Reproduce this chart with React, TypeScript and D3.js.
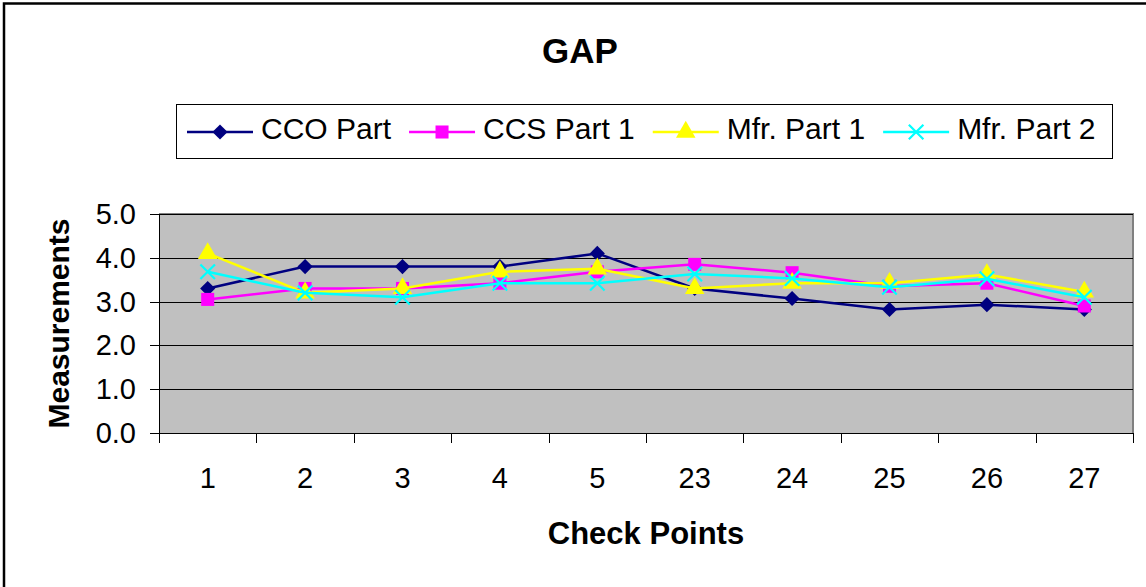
import React, { useEffect, useRef } from "react";
import * as d3 from "d3";

// check point categories along the x axis
const checkPoints = ["1", "2", "3", "4", "5", "23", "24", "25", "26", "27"];

const ccoPart = [3.3, 3.8, 3.8, 3.8, 4.1, 3.3, 3.07, 2.82, 2.93, 2.82];
const ccsPart1 = [3.05, 3.3, 3.3, 3.42, 3.68, 3.85, 3.66, 3.35, 3.42, 2.9];
const mfrPart1 = [4.1, 3.2, 3.3, 3.68, 3.75, 3.3, 3.42, 3.42, 3.62, 3.22];
const mfrPart2 = [3.68, 3.2, 3.1, 3.42, 3.42, 3.63, 3.53, 3.33, 3.52, 3.1];

const yTicks = [0, 1, 2, 3, 4, 5];

const seriesNames = ["CCO Part", "CCS Part 1", "Mfr. Part 1", "Mfr. Part 2"];

const FONT = "'Liberation Sans', Arial, Helvetica, sans-serif";

type Series = {
  name: string;
  values: number[];
  color: string;
  marker: "diamond" | "square" | "triangle" | "x";
};

const App = () => {
  const svgRef = useRef<SVGSVGElement | null>(null);

  useEffect(() => {
    const width = 1146;
    const height = 587;

    const svg = d3.select(svgRef.current);
    svg.selectAll("*").remove(); // clear prev
    svg.attr("width", width).attr("height", height);

    const series: Series[] = [
      { name: seriesNames[0], values: ccoPart, color: "#000080", marker: "diamond" },
      { name: seriesNames[1], values: ccsPart1, color: "#FF00FF", marker: "square" },
      { name: seriesNames[2], values: mfrPart1, color: "#FFFF00", marker: "triangle" },
      { name: seriesNames[3], values: mfrPart2, color: "#00FFFF", marker: "x" },
    ];

    const plot = { left: 159, right: 1133, top: 214, bottom: 433 };

    const x = d3
      .scaleBand<string>()
      .domain(checkPoints)
      .range([plot.left, plot.right])
      .padding(0);
    const y = d3.scaleLinear().domain([0, 5]).range([plot.bottom, plot.top]);

    const cx = (c: string) => (x(c) ?? 0) + x.bandwidth() / 2;

    // outer chart border (only left & top show in the crop)
    svg
      .append("path")
      .attr("d", `M4,${height}V3.5H${width}`)
      .attr("fill", "none")
      .attr("stroke", "#000")
      .attr("stroke-width", 2.5);

    // title
    svg
      .append("text")
      .attr("x", 580)
      .attr("y", 63)
      .attr("text-anchor", "middle")
      .style("font-family", FONT)
      .style("font-weight", "bold")
      .style("font-size", "35px")
      .text("GAP");

    // plot area
    svg
      .append("rect")
      .attr("x", plot.left)
      .attr("y", plot.top)
      .attr("width", plot.right - plot.left)
      .attr("height", plot.bottom - plot.top)
      .attr("fill", "#C0C0C0");

    svg
      .append("path")
      .attr("d", `M${plot.left},${plot.top}H${plot.right}V${plot.bottom}`)
      .attr("fill", "none")
      .attr("stroke", "#808080")
      .attr("stroke-width", 2);

    // gridlines
    svg
      .append("g")
      .selectAll("line")
      .data(yTicks.slice(1))
      .join("line")
      .attr("x1", plot.left)
      .attr("x2", plot.right)
      .attr("y1", (d) => Math.round(y(d)) + 0.5)
      .attr("y2", (d) => Math.round(y(d)) + 0.5)
      .attr("stroke", "#000")
      .attr("stroke-width", 1);

    // y axis
    const yAxis = svg.append("g");
    yAxis
      .append("line")
      .attr("x1", plot.left + 0.5)
      .attr("x2", plot.left + 0.5)
      .attr("y1", plot.top)
      .attr("y2", plot.bottom)
      .attr("stroke", "#000");
    yAxis
      .selectAll("line.tick")
      .data(yTicks)
      .join("line")
      .attr("class", "tick")
      .attr("x1", plot.left - 9)
      .attr("x2", plot.left)
      .attr("y1", (d) => Math.round(y(d)) + 0.5)
      .attr("y2", (d) => Math.round(y(d)) + 0.5)
      .attr("stroke", "#000");
    yAxis
      .selectAll("text")
      .data(yTicks)
      .join("text")
      .attr("x", 136)
      .attr("y", (d) => y(d) + 10)
      .attr("text-anchor", "end")
      .style("font-family", FONT)
      .style("font-size", "29px")
      .text((d) => d3.format(".1f")(d));

    // x axis
    const xAxis = svg.append("g");
    xAxis
      .append("line")
      .attr("x1", plot.left)
      .attr("x2", plot.right)
      .attr("y1", plot.bottom + 0.5)
      .attr("y2", plot.bottom + 0.5)
      .attr("stroke", "#000");
    const boundaries = [...checkPoints.map((c) => x(c) ?? 0), plot.right];
    xAxis
      .selectAll("line.tick")
      .data(boundaries)
      .join("line")
      .attr("class", "tick")
      .attr("x1", (d) => Math.round(d) + 0.5)
      .attr("x2", (d) => Math.round(d) + 0.5)
      .attr("y1", plot.bottom)
      .attr("y2", plot.bottom + 10)
      .attr("stroke", "#000");
    xAxis
      .selectAll("text")
      .data(checkPoints)
      .join("text")
      .attr("x", (d) => cx(d))
      .attr("y", plot.bottom + 55)
      .attr("text-anchor", "middle")
      .style("font-family", FONT)
      .style("font-size", "29px")
      .text((d) => d);

    // axis titles
    svg
      .append("text")
      .attr("transform", `translate(69,${(plot.top + plot.bottom) / 2}) rotate(-90)`)
      .attr("text-anchor", "middle")
      .style("font-family", FONT)
      .style("font-weight", "bold")
      .style("font-size", "30px")
      .text("Measurements");

    svg
      .append("text")
      .attr("x", (plot.left + plot.right) / 2)
      .attr("y", 544)
      .attr("text-anchor", "middle")
      .style("font-family", FONT)
      .style("font-weight", "bold")
      .style("font-size", "31px")
      .text("Check Points");

    // marker helper
    const drawMarker = (
      sel: d3.Selection<any, any, any, any>,
      s: Series
    ) => {
      if (s.marker === "diamond") {
        sel.attr("d", d3.symbol().type(d3.symbolSquare).size(115)()!).attr("fill", s.color);
      } else if (s.marker === "square") {
        sel.attr("d", d3.symbol().type(d3.symbolSquare).size(170)()!).attr("fill", s.color);
      } else if (s.marker === "triangle") {
        sel.attr("d", d3.symbol().type(d3.symbolTriangle).size(165)()!).attr("fill", s.color);
      } else {
        sel
          .attr("d", d3.symbol().type(d3.symbolX).size(140)()!)
          .attr("fill", "none")
          .attr("stroke", s.color)
          .attr("stroke-width", 2.2);
      }
    };

    const line = d3
      .line<number>()
      .x((_, i) => cx(checkPoints[i]))
      .y((d) => y(d));

    series.forEach((s) => {
      const g = svg.append("g");
      g.append("path")
        .attr("d", line(s.values))
        .attr("fill", "none")
        .attr("stroke", s.color)
        .attr("stroke-width", 2.5);
      const m = g
        .selectAll("path.marker")
        .data(s.values)
        .join("path")
        .attr("class", "marker");
      drawMarker(m, s);
      m.attr(
        "transform",
        (d, i) =>
          `translate(${cx(checkPoints[i])},${y(d)})` +
          (s.marker === "diamond" ? " rotate(45)" : "")
      );
    });

    // legend
    const legend = svg.append("g");
    legend
      .append("rect")
      .attr("x", 176.5)
      .attr("y", 104.5)
      .attr("width", 936)
      .attr("height", 54)
      .attr("fill", "#fff")
      .attr("stroke", "#000")
      .attr("stroke-width", 1);

    let lx = 187;
    const ly = 132;
    series.forEach((s) => {
      const item = legend.append("g");
      item
        .append("line")
        .attr("x1", lx)
        .attr("x2", lx + 66)
        .attr("y1", ly)
        .attr("y2", ly)
        .attr("stroke", s.color)
        .attr("stroke-width", 2.5);
      const mk = item.append("path");
      drawMarker(mk, s);
      mk.attr(
        "transform",
        `translate(${lx + 33},${ly})` + (s.marker === "diamond" ? " rotate(45)" : "")
      );
      const t = item
        .append("text")
        .attr("x", lx + 74)
        .attr("y", 139)
        .style("font-family", FONT)
        .style("font-size", "30px")
        .text(s.name);
      const w = (t.node() as SVGTextElement).getComputedTextLength();
      lx += 74 + w + 18;
    });
  }, []);

  return (
    <svg
      ref={svgRef}
      style={{ position: "absolute", left: 0, top: 0, background: "#fff" }}
    ></svg>
  );
};

export default App;
